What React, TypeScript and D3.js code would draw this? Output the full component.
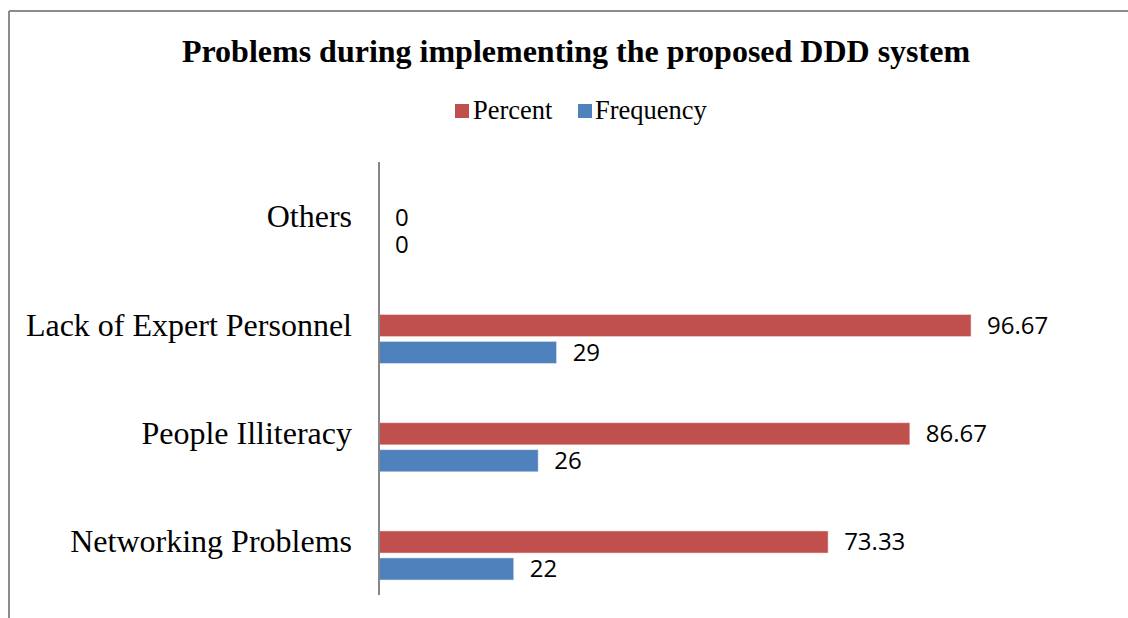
import React from "react";
import * as d3 from "d3";

const categories = ["Others", "Lack of Expert Personnel", "People Illiteracy", "Networking Problems"];
const percentValues = [0, 96.67, 86.67, 73.33];
const frequencyValues = [0, 29, 26, 22];
const seriesNames = ["Percent", "Frequency"];
const seriesColors = ["#C0504D", "#4F81BD"];

const W = 1128;
const H = 618;

export default function App() {
  const x = d3.scaleLinear().domain([0, 100]).range([379, 991.5]);
  const y = d3.scaleBand<string>().domain(categories).range([162, 595]).paddingInner(0).paddingOuter(0);
  const bw = y.bandwidth();
  const serif = "'Liberation Serif', 'Times New Roman', serif";
  const sans = "'Open Sans', 'Noto Sans', sans-serif";
  const series = [percentValues, frequencyValues];

  return (
    <svg width={W} height={H} style={{ position: "absolute", left: 0, top: 0, background: "#fff" }}>
      <rect x={0} y={0} width={W} height={H} fill="#fff" />
      <line x1={9} y1={11} x2={W} y2={11} stroke="#8c8c8c" strokeWidth={2} />
      <line x1={9} y1={11} x2={9} y2={H} stroke="#8c8c8c" strokeWidth={2} />
      <text x={576} y={62} textAnchor="middle" fontFamily={serif} fontWeight="bold" fontSize={32} fill="#000">
        Problems during implementing the proposed DDD system
      </text>
      <g>
        <rect x={455} y={104} width={14} height={14} fill={seriesColors[0]} />
        <text x={473} y={119} fontFamily={serif} fontSize={26.5} fill="#000">{seriesNames[0]}</text>
        <rect x={578} y={104} width={14} height={14} fill={seriesColors[1]} />
        <text x={595} y={119} fontFamily={serif} fontSize={26.5} fill="#000">{seriesNames[1]}</text>
      </g>
      {categories.map((c, i) => {
        const y0 = y(c)!;
        return (
          <g key={c}>
            <text x={352} y={y0 + bw / 2} dy="0.35em" textAnchor="end" fontFamily={serif} fontSize={32} fill="#000">
              {c}
            </text>
            {series.map((vals, s) => {
              const top = y0 + bw * (s === 0 ? 0.408 : 0.657);
              const h = bw * 0.205;
              const v = vals[i];
              return (
                <g key={s}>
                  {v > 0 && (
                    <rect x={x(0)} y={top} width={x(v) - x(0)} height={h} fill={seriesColors[s]} stroke="#fff" strokeOpacity={0.5} strokeWidth={1} />
                  )}
                  <text x={x(v) + 16} y={top + h / 2} dy="0.35em" fontFamily={sans} fontSize={24} fill="#000">
                    {String(v)}
                  </text>
                </g>
              );
            })}
          </g>
        );
      })}
      <line x1={379} y1={162} x2={379} y2={595} stroke="#868686" strokeWidth={2} />
    </svg>
  );
}
